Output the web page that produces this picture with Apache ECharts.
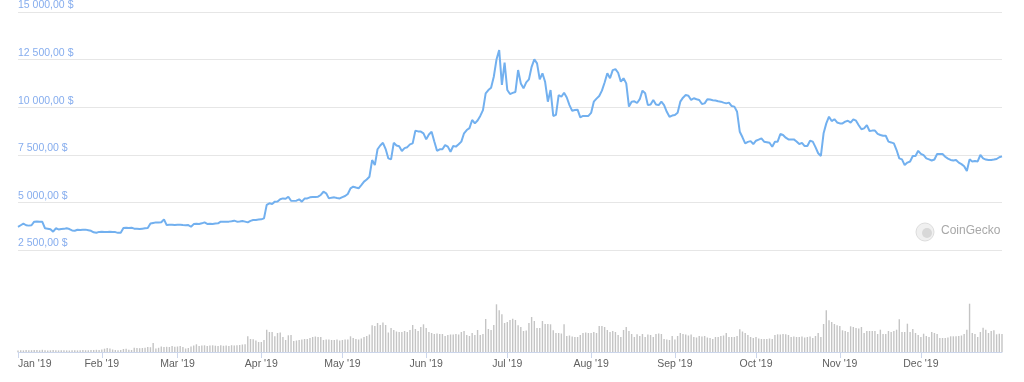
<!DOCTYPE html>
<html>
<head>
<meta charset="utf-8">
<script src="https://cdn.jsdelivr.net/npm/echarts@6/dist/echarts.min.js"></script>
<style>
html,body{margin:0;padding:0;background:#fff;}
#chart{width:1024px;height:382px;}
</style>
</head>
<body>
<div id="chart"></div>
<script>
// Daily BTC price (USD), Jan 1 2019 .. Dec 31 2019
const priceJan = [3720,3800,3880,3800,3780,3800,3990,4000,3990,3980,3640,3620,3590,3460,3640,3580,3600,3610,3640,3600,3530,3510,3560,3550,3560,3570,3540,3510,3430,3410,3450];
const priceFeb = [3460,3450,3440,3460,3450,3440,3400,3410,3650,3670,3660,3670,3620,3610,3600,3620,3640,3650,3890,3920,3950,3940,3960,4110,3810,3820,3830,3810];
const priceMar = [3820,3830,3810,3800,3810,3720,3860,3880,3870,3900,3950,3870,3880,3870,3890,3900,3990,3990,3990,3990,4010,4040,3990,4000,4020,3990,3950,4030,4075,4080,4100];
const priceApr = [4110,4160,4870,4950,4920,5040,5050,5170,5210,5190,5300,5090,5080,5090,5160,5040,5200,5210,5265,5280,5290,5300,5390,5560,5480,5210,5250,5265,5230,5210];
const priceMay = [5280,5335,5440,5740,5825,5780,5740,5910,6090,6200,6350,7225,6960,7790,7990,8130,7800,7310,7260,8130,7990,7950,7700,7850,7900,8050,8100,8770,8730,8720,8625];
const priceJun = [8310,8570,8710,8200,7710,7790,7790,8010,7930,7660,7960,7930,8050,8190,8630,8800,8900,9330,9150,9300,9540,9850,10730,10900,11020,11600,12500,13000,11170,12340];
const priceJul = [10900,10690,10750,10800,11950,11250,10990,11300,11460,12120,12510,12300,11460,11780,11320,10290,10900,9540,9600,10640,10550,10760,10510,10110,9810,9850,9870,9470,9540,9540,9540];
const priceAug = [9700,10290,10450,10590,10870,11300,11780,11520,11950,12000,11810,11340,11520,11250,10030,10290,10310,10220,10420,10870,10730,10110,10140,10375,10140,10110,10290,10110,9760,9500,9560];
const priceSep = [9590,9710,10290,10500,10640,10600,10380,10470,10420,10380,10170,10200,10420,10400,10370,10350,10310,10290,10240,10200,10240,10060,10030,9760,8710,8420,8100,8180,8220,8065];
const priceOct = [8240,8300,8360,8190,8160,8130,7925,8190,8190,8590,8540,8400,8310,8310,8310,8200,8065,8130,7960,7960,8240,8190,7900,7580,7440,8630,9150,9500,9270,9370,9200];
const priceNov = [9150,9150,9240,9290,9190,9360,9290,9050,8840,8890,9060,8750,8770,8770,8600,8540,8500,8500,8190,8150,8100,7750,7310,7260,6960,7090,7150,7440,7440,7710];
const priceDec = [7550,7480,7310,7260,7200,7250,7540,7540,7540,7400,7300,7230,7200,7230,7090,7010,6900,6650,7260,7150,7170,7150,7490,7310,7250,7230,7230,7250,7280,7370,7420];

// Daily trading volume (billions USD, approximate)
const volJan = [1.5,1.8,1.6,1.9,1.7,1.8,2.0,1.9,1.7,2.2,1.8,1.6,1.7,1.9,1.8,1.6,1.7,1.8,1.6,1.5,1.7,1.8,1.6,1.7,1.9,1.8,1.7,1.9,2.0,2.2,2.0];
const volFeb = [2.5,3.3,4.0,3.5,2.5,2.0,1.8,2.0,3.0,3.2,2.2,2.0,4.3,4.0,3.8,4.0,4.2,5.0,4.8,9.0,3.5,4.2,5.5,5.0,5.2,5.0,6.0,5.2];
const volMar = [5.5,6.0,5.0,3.5,4.0,5.5,6.5,7.7,6.0,6.5,6.7,6.0,6.5,6.7,6.3,6.0,6.7,6.2,6.5,6.0,6.8,6.5,6.7,7.0,7.5,7.7,15.7,13.0,12.7,11.5,10.0];
const volApr = [10,12,22.3,20,20,15.7,19,19.5,15,12,16.7,17,11,11.5,12,12.5,13,13,14,15,15.5,15,15,12,12.5,12.5,12,12,12.5,11.5];
const volMay = [12,12.5,12.5,15.7,14,13,12.5,13.5,15,16,17.5,26.7,26,29,27,29.5,27,19.5,24,22,20.5,20,20,21,20,22,27,23,21,25,27.7];
const volJun = [24,20,19,18,18.5,18,18,16,17,17.5,17.5,18,17.5,20,21,17,16,19,17,22,17,18,33,23,22,27,47.7,41.7,37.7,29];
const volJul = [30,32,33.3,32,26.7,25,21,21.5,29,35,31,24,24,31,28,28,27.7,21.7,19,19,18.5,27.7,16,16.5,15.5,15,15,17,19,19.5,19];
const volAug = [19,20,19,26,26,25,22,20,21,20,17,15,22,25,21,18,15,17.7,16,18,15,17.5,17,15,18,18.5,18,13,12.5,12,16];
const volSep = [12.5,16,19,18,17.5,16.5,17.5,15,14.5,16,15.5,16,14.5,14,13,15,15,16,16.5,19,15,15,15,16,22.7,20.5,19,17,15,14];
const volOct = [15,13.5,13,13,13,13.5,13,17,17.7,17.5,18,17.7,17,15,15.5,15,15,15.5,14.5,15,15.5,14,16,19,15,28,41.7,31.7,30,28,26.7];
const volNov = [26,21.7,21,20,25.7,25,24,23.5,25,19,21,21,21,21,18,22.3,18,18,21,20,21,22.3,32.7,20,20,28.3,20,23,19,17];
const volDec = [15,18.3,16,15,20,19,18,14,14,14,14.5,15.7,15.7,15.7,16,16.5,18,22.3,48.3,19,18,15,20,24.3,22.3,19,21,21.7,17.7,18.3,18];

const priceTicks = [2500, 5000, 7500, 10000, 12500, 15000];
const monthNames = ['Jan','Feb','Mar','Apr','May','Jun','Jul','Aug','Sep','Oct','Nov','Dec'];

const prices = [].concat(priceJan,priceFeb,priceMar,priceApr,priceMay,priceJun,priceJul,priceAug,priceSep,priceOct,priceNov,priceDec);
const volumes = [].concat(volJan,volFeb,volMar,volApr,volMay,volJun,volJul,volAug,volSep,volOct,volNov,volDec);

// category dates for 2019
const dates = [];
for (let i = 0; i < prices.length; i++) {
  const d = new Date(Date.UTC(2019, 0, 1 + i));
  dates.push(d.getUTCFullYear() + '-' + (d.getUTCMonth()+1) + '-' + d.getUTCDate());
}
const isMonthStart = (idx) => dates[idx] && dates[idx].split('-')[2] === '1';
function fmtPrice(v){
  const s = String(Math.round(v));
  const withSp = s.replace(/\B(?=(\d{3})+(?!\d))/g, ' ');
  return withSp + ',00 $';
}

const chart = echarts.init(document.getElementById('chart'), null, {renderer:'canvas'});
const option = {
  animation: false,
  backgroundColor: '#ffffff',
  grid: [
    {left: 18, right: 22, top: 12, height: 238},
    {left: 18, right: 22, top: 302, height: 50}
  ],
  xAxis: [
    {gridIndex: 0, type: 'category', data: dates, boundaryGap: false, show: false},
    {gridIndex: 1, type: 'category', data: dates, boundaryGap: false,
      axisLine: {show: true, lineStyle: {color: '#ccd6eb', width: 1}},
      axisTick: {show: true, length: 6, lineStyle: {color: '#ccd6eb'}, interval: (i) => isMonthStart(i)},
      axisLabel: {
        interval: (i) => isMonthStart(i),
        color: '#606060', fontSize: 10.5, fontFamily: 'Liberation Sans, Arial, sans-serif',
        margin: 7, alignMinLabel: 'left',
        formatter: (v) => { const p = v.split('-'); return monthNames[+p[1]-1] + " '19"; }
      },
      splitLine: {show: false}
    }
  ],
  yAxis: [
    {gridIndex: 0, type: 'value', min: priceTicks[0], max: priceTicks[priceTicks.length-1], interval: 2500,
      axisLine: {show: false}, axisTick: {show: false},
      splitLine: {show: true, lineStyle: {color: '#e6e6e6', width: 1}},
      axisLabel: {inside: true, margin: 0, verticalAlign: 'bottom', padding: [0,0,1,0],
        color: '#86adee', fontSize: 10.5, fontFamily: 'Liberation Sans, Arial, sans-serif',
        formatter: fmtPrice}
    },
    {gridIndex: 1, type: 'value', min: 0, max: 50, show: false, splitLine: {show: false}}
  ],
  series: [
    {type: 'line', xAxisIndex: 0, yAxisIndex: 0, data: prices, showSymbol: false, symbol: 'none',
      lineStyle: {color: '#72b0ef', width: 2}, z: 3},
    {type: 'bar', xAxisIndex: 1, yAxisIndex: 1, data: volumes, barWidth: 1.4,
      itemStyle: {color: '#c4c4c4'}}
  ],
  graphic: [
    {type: 'circle', shape: {cx: 925, cy: 232, r: 9}, style: {fill: '#f0f0f0', stroke: '#dddddd', lineWidth: 1}, z: 10},
    {type: 'circle', shape: {cx: 927, cy: 233, r: 5}, style: {fill: '#d8d8d8'}, z: 11},
    {type: 'text', left: 941, top: 225, style: {text: 'CoinGecko', fill: '#a8a8a8', fontSize: 12, fontFamily: 'Liberation Sans, Arial, sans-serif'}, z: 10}
  ]
};
chart.setOption(option);
</script>
</body>
</html>
